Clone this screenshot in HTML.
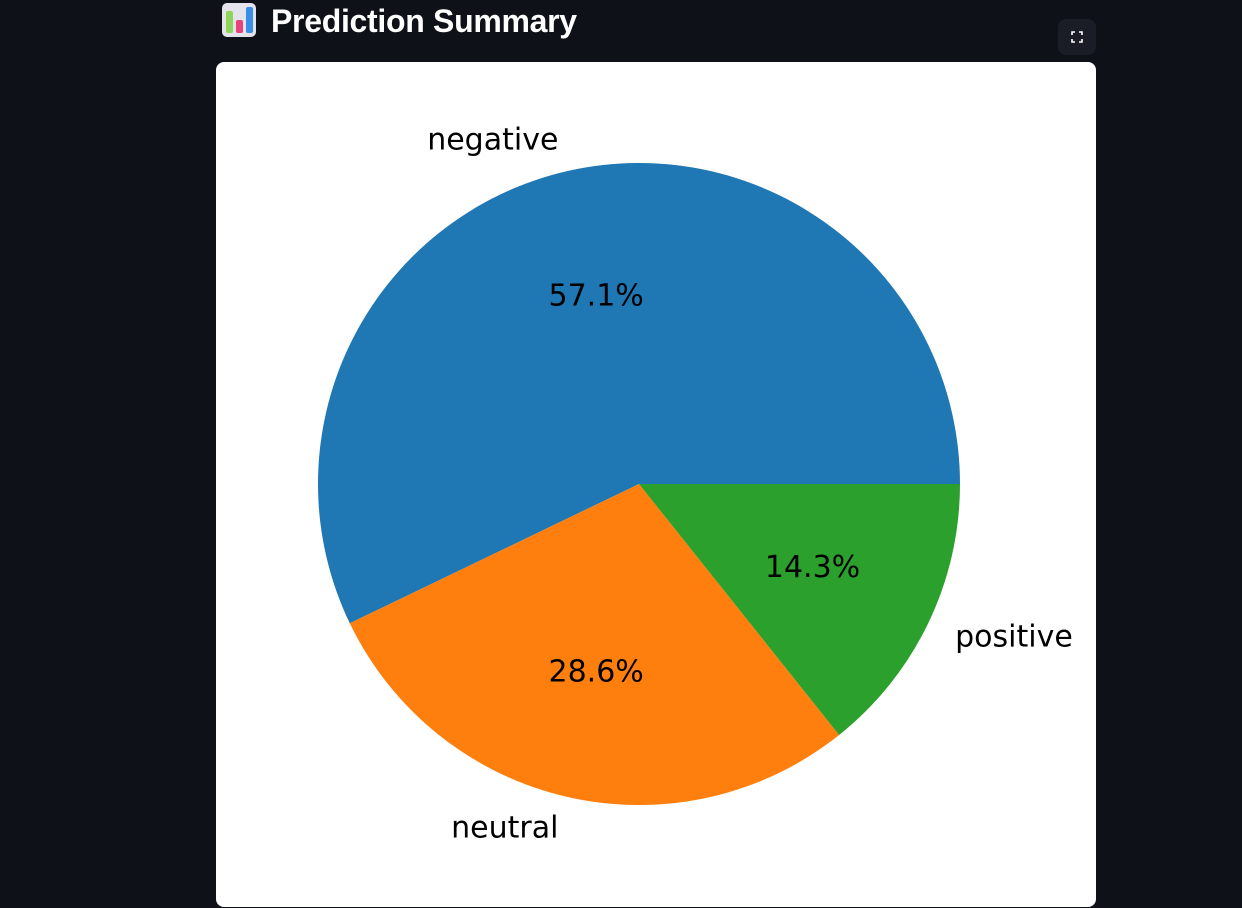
<!DOCTYPE html>
<html><head><meta charset="utf-8"><style>
body{margin:0;width:1242px;height:908px;background:#0e1117;overflow:hidden;position:relative;font-family:"Liberation Sans",sans-serif}
#title{position:absolute;left:271px;top:1px;color:#fff;font-weight:bold;font-size:32px;line-height:40px;letter-spacing:-0.3px}
#icon{position:absolute;left:222px;top:3px;width:34px;height:34px;border-radius:5px;background:#e4e2ea}
#btn{position:absolute;left:1058px;top:19px;width:38px;height:36px;border-radius:8px;background:#1a1d25}
#card{position:absolute;left:216px;top:62px;width:880px;height:845px;background:#fff;border-radius:8px}
svg{position:absolute;left:0;top:0}
</style></head><body>
<div id="icon">
<div style="position:absolute;left:4px;top:8px;width:7px;height:22px;background:#8ed65a;border-radius:2px"></div>
<div style="position:absolute;left:14px;top:17px;width:7px;height:13px;background:#e8427a;border-radius:2px"></div>
<div style="position:absolute;left:24px;top:4px;width:7px;height:26px;background:#3a8ee6;border-radius:2px"></div>
</div>
<div id="title">Prediction Summary</div>
<div id="btn">
<svg width="38" height="36" viewBox="0 0 38 36"><path d="M14 16v-3h3M21 13h3v3M24 20v3h-3M17 23h-3v-3" stroke="#fff" stroke-width="1.6" fill="none"/></svg></div>
<div id="card"></div>
<svg id="pie" width="1242" height="908"></svg>
<script>
const categories=["negative","neutral","positive"];
const values=[4,2,1];
const colors=["#1f77b4","#ff7f0e","#2ca02c"];
const cx=639,cy=484,r=321;
const svg=document.getElementById('pie');
const NS='http://www.w3.org/2000/svg';
const total=values.reduce((a,b)=>a+b,0);
let a0=0;
values.forEach((v,i)=>{
  const a1=a0+v/total*360;
  const p=(a)=>[cx+r*Math.cos(a*Math.PI/180),cy-r*Math.sin(a*Math.PI/180)];
  const [x0,y0]=p(a0),[x1,y1]=p(a1);
  const path=document.createElementNS(NS,'path');
  path.setAttribute('d',`M${cx},${cy}L${x0},${y0}A${r},${r} 0 ${a1-a0>180?1:0} 0 ${x1},${y1}Z`);
  path.setAttribute('fill',colors[i]);
  
  
  svg.appendChild(path);
  const m=(a0+a1)/2*Math.PI/180;
  const lx=cx+1.1*r*Math.cos(m)-2,ly=cy-1.1*r*Math.sin(m);
  const t=document.createElementNS(NS,'text');
  t.setAttribute('x',lx);t.setAttribute('y',ly);
  t.setAttribute('text-anchor',Math.cos(m)>0?'start':'end');
  t.setAttribute('dominant-baseline','central');
  t.setAttribute('font-family','DejaVu Sans, sans-serif');t.setAttribute('font-size','30');
  t.textContent=categories[i];
  
  
  svg.appendChild(t);
  const px=cx+0.6*r*Math.cos(m),py=cy-0.6*r*Math.sin(m);
  const q=document.createElementNS(NS,'text');
  q.setAttribute('x',px);q.setAttribute('y',py);
  q.setAttribute('text-anchor','middle');q.setAttribute('dominant-baseline','central');
  q.setAttribute('font-family','DejaVu Sans, sans-serif');q.setAttribute('font-size','30');
  q.textContent=(v/total*100).toFixed(1)+'%';
  
  
  svg.appendChild(q);
  a0=a1;
});
</script>
</body></html>
